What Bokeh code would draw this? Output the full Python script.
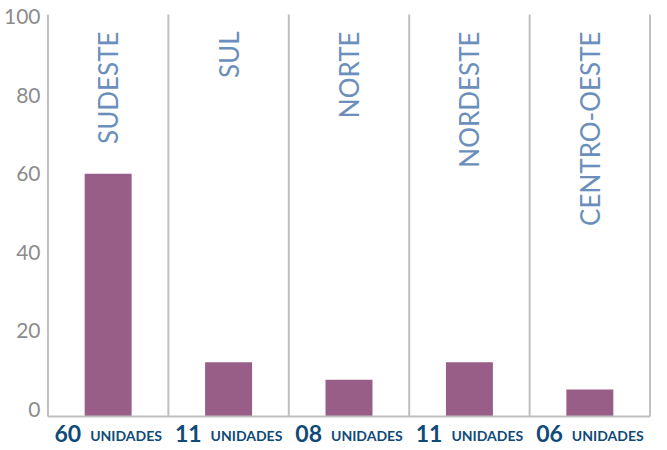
import math
from bokeh.plotting import figure
from bokeh.models import FixedTicker, Range1d, ColumnDataSource
from bokeh.core.properties import value
from bokeh.embed import file_html
from bokeh.resources import INLINE

# ---- data ----
regions = ["SUDESTE", "SUL", "NORTE", "NORDESTE", "CENTRO-OESTE"]
bar_values = [60, 12, 7.6, 12, 5.1]
unit_counts = ["60", "11", "08", "11", "06"]
unit_word = "UNIDADES"
y_ticks = [0, 20, 40, 60, 80, 100]

# ---- styles / layout constants ----
Y_LOW, Y_HIGH = -9.92, 104.07     # visible data window (frame fills canvas)
Y_BASE = -1.78                    # baseline where the horizontal axis line sits
Y_TOP = 100.5                     # top of divider lines
X_PAD = 0.012
REGION_LABEL_Y = 96.2
UNIT_LABEL_Y = -6.1
BAR_COLOR = "#985e87"
REGION_COLOR = "#6b8fba"
UNIT_COLOR = "#0f4a78"
LINE_COLOR = "#bfbfbf"
TICK_COLOR = "#8c8c8c"
FONT = "Lato"

n = len(regions)
xs = [i + 0.5 for i in range(n)]

p = figure(width=651, height=448,
           x_range=Range1d(-X_PAD, n + X_PAD), y_range=Range1d(Y_LOW, Y_HIGH),
           output_backend="svg", toolbar_location=None,
           min_border_left=41, min_border_right=0,
           min_border_top=0, min_border_bottom=0)
p.outline_line_color = None
p.background_fill_color = "white"
p.border_fill_color = "white"
p.grid.visible = False
p.xaxis.visible = False

src = ColumnDataSource(dict(x=xs, top=bar_values, region=regions,
                            cnt=unit_counts, word=[unit_word] * n))

# divider lines
bounds = list(range(0, n + 1))
p.segment(x0=bounds, x1=bounds, y0=[Y_BASE] * len(bounds), y1=[Y_TOP] * len(bounds),
          line_color=LINE_COLOR, line_width=2)

p.vbar(x="x", top="top", bottom=Y_BASE, width=0.39, source=src,
       fill_color=BAR_COLOR, line_color=None)

# horizontal axis line (thin filled band, 2px tall)
p.rect(x=[n / 2], y=[Y_BASE], width=[n], height=2, height_units="screen",
       fill_color=LINE_COLOR, line_color=None)

p.text(x="x", y=REGION_LABEL_Y, text="region", source=src,
       angle=math.pi / 2, text_align="right", text_baseline="middle",
       text_font=value(FONT), text_font_size="26px", text_color=REGION_COLOR)

p.text(x="x", y=UNIT_LABEL_Y, text="cnt", source=src, text_align="right",
       x_offset=-27, text_baseline="middle",
       text_font=value(FONT), text_font_style="bold",
       text_font_size="23px", text_color=UNIT_COLOR)
p.text(x="x", y=UNIT_LABEL_Y, text="word", source=src, text_align="left",
       x_offset=-18, y_offset=2, text_baseline="middle",
       text_font=value(FONT), text_font_style="bold",
       text_font_size="14px", text_color=UNIT_COLOR)

# y axis: labels only
p.yaxis.ticker = FixedTicker(ticks=y_ticks)
p.yaxis.major_tick_line_color = None
p.yaxis.minor_tick_line_color = None
p.yaxis.major_tick_out = 0
p.yaxis.minor_tick_out = 0
p.yaxis.axis_line_color = None
p.yaxis.major_label_text_color = TICK_COLOR
p.yaxis.major_label_text_font = FONT
p.yaxis.major_label_text_font_size = "21px"
p.yaxis.major_label_standoff = 6

open("out.html", "w").write(file_html(p, INLINE))
